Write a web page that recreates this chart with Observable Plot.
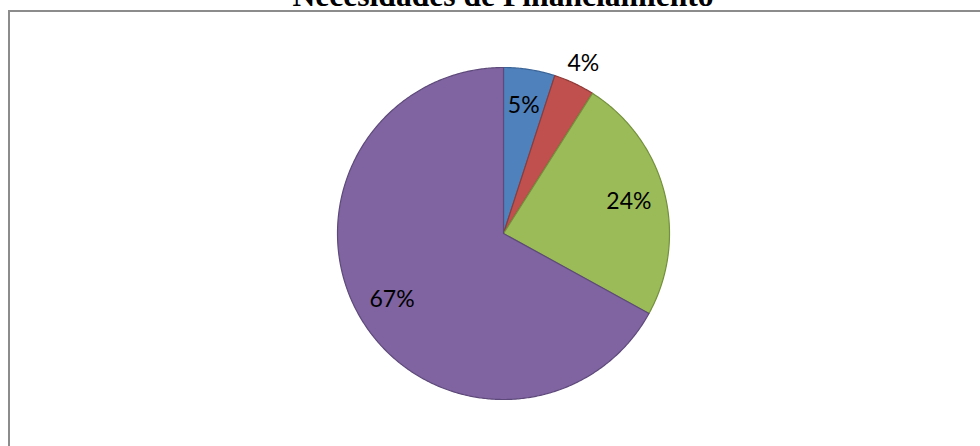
<!DOCTYPE html>
<html><head><meta charset="utf-8">
<script src="https://cdn.jsdelivr.net/npm/d3@7"></script>
<script src="https://cdn.jsdelivr.net/npm/@observablehq/plot@0.6"></script>
<style>
html,body{margin:0;padding:0;background:#fff;overflow:hidden;width:980px;height:446px}
#frame{position:absolute;left:8px;top:10px;width:1000px;height:500px;border-top:2px solid #8c8c8c;border-left:2px solid #8c8c8c;box-sizing:border-box}
#title{position:absolute;left:3px;width:1000px;text-align:center;top:-20px;font:bold 31.6px/31.6px "Liberation Serif","Times New Roman",serif;color:#000;white-space:nowrap}
#chart{position:absolute;left:0;top:0}
#chart svg{max-width:none}
</style></head>
<body>
<div id="frame"></div>
<div id="title">Necesidades de Financiamiento</div>
<div id="chart"></div>
<script>
const categories = ["Categoría 1", "Categoría 2", "Categoría 3", "Categoría 4"];
const shares = [5, 4, 24, 67];
const labels = ["5%", "4%", "24%", "67%"];
const fills = ["#4F81BD", "#C0504D", "#9BBB59", "#8064A2"];
const strokes = ["#3A6496", "#8E3B39", "#74903C", "#5E4A7A"];
const placement = ["inside", "outside", "inside", "inside"];

const total = d3.sum(shares);
let acc = 0;
const slices = shares.map((v, i) => {
  const a0 = acc / total * 2 * Math.PI;
  acc += v;
  const a1 = acc / total * 2 * Math.PI;
  return {category: categories[i], value: v, label: labels[i], fill: fills[i], stroke: strokes[i],
          a0, a1, mid: (a0 + a1) / 2, r: placement[i] === "outside" ? 1.13 : 0.78};
});

// arc geometry for each slice (sampled along the circle)
const pts = [];
for (const s of slices) {
  pts.push({category: s.category, fill: s.fill, stroke: s.stroke, x: 0, y: 0});
  const n = Math.max(2, Math.ceil((s.a1 - s.a0) / (Math.PI / 360)));
  for (let k = 0; k <= n; k++) {
    const a = s.a0 + (s.a1 - s.a0) * k / n;
    pts.push({category: s.category, fill: s.fill, stroke: s.stroke, x: Math.sin(a), y: Math.cos(a)});
  }
  pts.push({category: s.category, fill: s.fill, stroke: s.stroke, x: 0, y: 0});
}

const chart = Plot.plot({
  width: 980,
  height: 446,
  margin: 0,
  x: {domain: [-1, 1], range: [337, 669], axis: null},
  y: {domain: [-1, 1], range: [399, 67], axis: null},
  color: {type: "identity"},
  style: {background: "transparent", overflow: "visible"},
  marks: [
    Plot.line(pts, {x: "x", y: "y", z: "category", fill: "fill", stroke: "stroke", strokeWidth: 1.2, strokeLinejoin: "round", curve: "linear"}),
    Plot.text(slices, {
      x: d => d.r * Math.sin(d.mid),
      y: d => d.r * Math.cos(d.mid),
      text: "label",
      fontSize: 23,
      fontFamily: "Lato, 'Noto Sans', sans-serif",
      fill: "#000"
    })
  ]
});
document.getElementById("chart").appendChild(chart);
</script>
</body></html>
